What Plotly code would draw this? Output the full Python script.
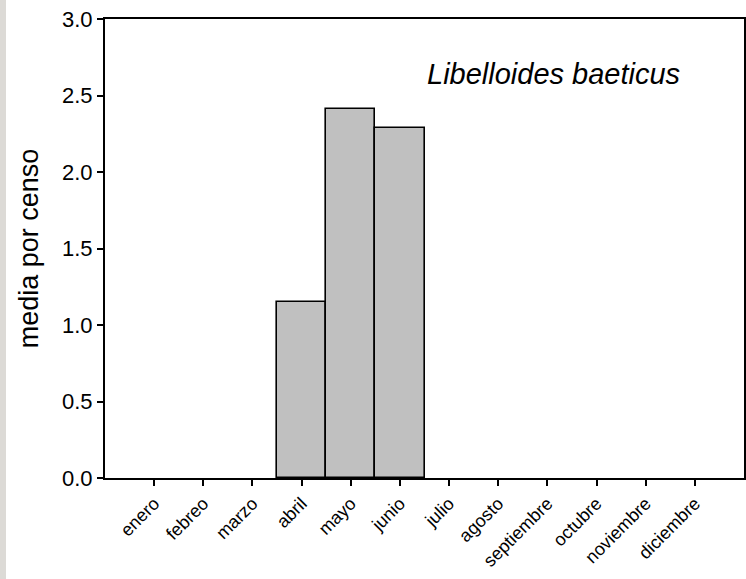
import plotly.graph_objects as go

# meses del censo y media por censo
months = ['enero', 'febreo', 'marzo', 'abril', 'mayo', 'junio', 'julio',
          'agosto', 'septiembre', 'octubre', 'noviembre', 'diciembre']
mean_per_census = [0, 0, 0, 1.15, 2.41, 2.29, 0, 0, 0, 0, 0, 0]
species = 'Libelloides baeticus'
y_ticks = [0.0, 0.5, 1.0, 1.5, 2.0, 2.5, 3.0]

x_pos = list(range(len(months)))
# no outline on empty months
outline = [1.6 if v > 0 else 0 for v in mean_per_census]

fig = go.Figure()

fig.add_trace(go.Bar(
    x=x_pos, y=mean_per_census,
    width=1,
    marker=dict(color='#c0c0c0', line=dict(color='black', width=outline)),
    showlegend=False
))

# textured strip on the far left of the page
fig.add_shape(type='rect', xref='paper', yref='paper',
              x0=-106 / 639, x1=-99 / 639, y0=-101 / 459, y1=1 + 19 / 459,
              fillcolor='#dcdad6', line=dict(width=0), layer='below')

fig.add_annotation(
    x=8.12, y=2.64, xref='x', yref='y',
    text=f'<i>{species}</i>', showarrow=False,
    font=dict(size=29, color='black', family='Liberation Sans, Arial')
)

fig.update_layout(
    width=746, height=579,
    margin=dict(l=105, r=2, t=19, b=101),
    paper_bgcolor='white', plot_bgcolor='white',
    font=dict(family='Liberation Sans, Arial', color='black'),
    bargap=0,
    xaxis=dict(
        range=[-1, 12], automargin=False,
        tickmode='array', tickvals=x_pos, ticktext=months,
        tickangle=-45,
        ticks='outside', ticklen=6, tickwidth=1.6, tickcolor='black',
        showline=True, linecolor='black', linewidth=2, mirror=True,
        showgrid=False, zeroline=False,
        tickfont=dict(size=18)
    ),
    yaxis=dict(
        range=[0, 3.0], automargin=False,
        tickmode='array', tickvals=y_ticks,
        ticktext=[f'{v:.1f}' for v in y_ticks],
        ticks='outside', ticklen=6, tickwidth=1.6, tickcolor='black',
        showline=True, linecolor='black', linewidth=2, mirror=True,
        showgrid=False, zeroline=False,
        tickfont=dict(size=22),
        title=dict(text='media por censo', font=dict(size=27), standoff=16)
    )
)

# drop the browser's default body margin so the figure sits at the page corner
fig.write_html('out.html',
               config={'displayModeBar': False},
               post_script="document.body.style.margin='0';"
                           "document.body.style.overflow='hidden';")
